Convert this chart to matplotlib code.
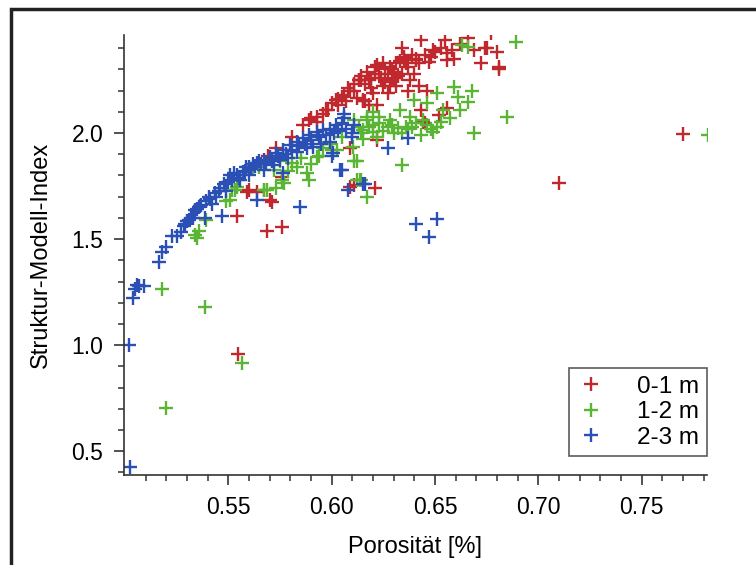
import matplotlib.pyplot as plt
from matplotlib.patches import Rectangle

plt.rcParams['font.family'] = ['Liberation Sans', 'DejaVu Sans']

# 0-1 m
x_red = [0.554, 0.5546, 0.5686, 0.576, 0.571, 0.564, 0.559, 0.560, 0.570, 0.576,
         0.573, 0.569, 0.581, 0.586, 0.589, 0.593, 0.596, 0.598, 0.602, 0.605,
         0.609, 0.613, 0.615, 0.618, 0.622, 0.593, 0.590, 0.597, 0.611, 0.613,
         0.609, 0.622, 0.609, 0.611, 0.621, 0.600, 0.603, 0.606, 0.608, 0.611,
         0.614, 0.617, 0.619, 0.621, 0.625, 0.627, 0.629, 0.614, 0.618, 0.615,
         0.620, 0.623, 0.625, 0.630, 0.628, 0.629, 0.630, 0.634, 0.636, 0.637,
         0.638, 0.637, 0.642, 0.643, 0.646, 0.647, 0.649, 0.655, 0.656, 0.656,
         0.659, 0.662, 0.666, 0.669, 0.672, 0.674, 0.675, 0.677, 0.680, 0.681,
         0.681, 0.642, 0.648, 0.641, 0.652, 0.656, 0.643, 0.644, 0.645, 0.616,
         0.612, 0.622, 0.632, 0.626, 0.635, 0.640, 0.710, 0.770,
         0.616, 0.619, 0.621, 0.624, 0.626, 0.628, 0.631, 0.633, 0.635, 0.639,
         0.641, 0.645, 0.650, 0.653, 0.658, 0.627, 0.631, 0.634, 0.603, 0.607]
y_red = [1.61, 0.957, 1.54, 1.557, 1.675, 1.72, 1.72, 1.73, 1.685, 1.795,
         1.93, 1.89, 1.98, 2.04, 2.06, 2.075, 2.09, 2.11, 2.155, 2.17,
         2.20, 2.25, 2.15, 2.13, 2.32, 2.05, 2.07, 2.11, 2.20, 2.25,
         1.93, 1.965, 1.745, 1.755, 1.74, 2.14, 2.16, 2.18, 2.21, 2.23,
         2.27, 2.29, 2.21, 2.31, 2.33, 2.28, 2.25, 2.25, 2.25, 2.155,
         2.19, 2.28, 2.22, 2.26, 2.22, 2.30, 2.29, 2.40, 2.33, 2.31,
         2.25, 2.20, 2.22, 2.44, 2.20, 2.335, 2.39, 2.44, 2.375, 2.345,
         2.35, 2.42, 2.45, 2.39, 2.33, 2.40, 2.40, 2.47, 2.38, 2.30,
         2.31, 2.33, 2.36, 2.345, 2.085, 2.12, 2.11, 2.05, 2.045, 2.15,
         2.165, 2.13, 2.27, 2.24, 2.35, 2.28, 1.765, 1.995,
         2.23, 2.26, 2.28, 2.26, 2.30, 2.31, 2.33, 2.34, 2.36, 2.37,
         2.35, 2.37, 2.38, 2.40, 2.39, 2.19, 2.22, 2.28, 2.13, 2.15]

# 1-2 m
x_green = [0.518, 0.5386, 0.520, 0.5566, 0.5347, 0.536, 0.539, 0.534, 0.553, 0.5546,
           0.5507, 0.549, 0.552, 0.562, 0.565, 0.567, 0.5685, 0.572, 0.573, 0.575,
           0.576, 0.577, 0.581, 0.583, 0.585, 0.588, 0.589, 0.590, 0.593, 0.594,
           0.599, 0.6025, 0.605, 0.6105, 0.611, 0.612, 0.612, 0.6137, 0.614, 0.615,
           0.617, 0.617, 0.618, 0.620, 0.622, 0.623, 0.623, 0.627, 0.628, 0.630,
           0.632, 0.633, 0.636, 0.637, 0.638, 0.640, 0.641, 0.643, 0.646, 0.646,
           0.649, 0.651, 0.651, 0.654, 0.659, 0.661, 0.662, 0.666, 0.668, 0.634,
           0.617, 0.614, 0.615, 0.620, 0.611, 0.663, 0.666, 0.669, 0.685, 0.689,
           0.782, 0.554, 0.567,
           0.625, 0.629, 0.634, 0.639, 0.644, 0.648, 0.653, 0.657, 0.620, 0.613,
           0.596, 0.600, 0.579]
y_green = [1.264, 1.179, 0.703, 0.915, 1.505, 1.54, 1.59, 1.52, 1.73, 1.78,
           1.685, 1.68, 1.73, 1.84, 1.84, 1.73, 1.73, 1.825, 1.74, 1.87,
           1.78, 1.765, 1.86, 1.84, 1.88, 1.81, 1.78, 1.855, 1.885, 1.89,
           1.95, 1.92, 1.98, 1.935, 1.87, 1.87, 1.78, 1.78, 2.0, 1.97,
           2.06, 2.075, 2.03, 2.005, 1.98, 2.075, 2.045, 2.03, 2.06, 2.0,
           2.025, 2.11, 2.03, 2.02, 2.075, 2.155, 2.045, 1.99, 2.04, 2.14,
           2.005, 2.03, 2.19, 2.11, 2.215, 2.17, 2.11, 2.145, 2.20, 1.85,
           1.70, 1.78, 2.015, 2.10, 2.06, 2.415, 2.405, 2.0, 2.075, 2.43,
           1.99, 1.745, 1.73,
           2.01, 2.04, 2.00, 2.03, 2.06, 2.02, 2.05, 2.07, 2.04, 2.03,
           1.93, 1.92, 1.82]

# 2-3 m
x_blue = [0.5025, 0.502, 0.504, 0.505, 0.507, 0.509, 0.506, 0.5165, 0.518, 0.520,
          0.5225, 0.525, 0.527, 0.5285, 0.530, 0.532, 0.534, 0.5365, 0.539, 0.5405,
          0.542, 0.5435, 0.5455, 0.547, 0.549, 0.536, 0.5386, 0.533, 0.535, 0.551,
          0.554, 0.5555, 0.557, 0.560, 0.560, 0.564, 0.564, 0.567, 0.567, 0.570,
          0.573, 0.575, 0.5765, 0.5765, 0.580, 0.583, 0.583, 0.586, 0.589, 0.591,
          0.593, 0.596, 0.599, 0.599, 0.600, 0.6005, 0.602, 0.605, 0.605, 0.606,
          0.606, 0.610, 0.611, 0.5845, 0.604, 0.608, 0.615, 0.616, 0.627, 0.637,
          0.610, 0.641, 0.651, 0.647, 0.5525, 0.5585, 0.562, 0.565,
          0.541, 0.544, 0.546, 0.548, 0.550, 0.552, 0.555, 0.558, 0.561, 0.563,
          0.566, 0.568, 0.571, 0.574, 0.578, 0.581, 0.584, 0.587, 0.590, 0.594,
          0.597, 0.601, 0.603, 0.607, 0.572, 0.579, 0.588, 0.595, 0.529, 0.531,
          0.537]
y_blue = [0.424, 1.0, 1.22, 1.265, 1.28, 1.28, 1.285, 1.39, 1.44, 1.465,
          1.515, 1.515, 1.535, 1.56, 1.585, 1.60, 1.635, 1.655, 1.68, 1.70,
          1.665, 1.715, 1.725, 1.61, 1.725, 1.65, 1.60, 1.60, 1.64, 1.80,
          1.80, 1.78, 1.816, 1.84, 1.80, 1.86, 1.685, 1.873, 1.825, 1.887,
          1.905, 1.873, 1.92, 1.81, 1.943, 1.958, 1.91, 1.975, 1.99, 1.935,
          2.005, 2.014, 2.02, 1.96, 1.89, 1.905, 2.04, 2.045, 1.825, 2.09,
          2.07, 1.98, 2.04, 1.65, 1.825, 1.73, 1.76, 1.76, 1.93, 1.975,
          2.0, 1.57, 1.595, 1.51, 1.81, 1.84, 1.855, 1.87,
          1.69, 1.70, 1.74, 1.76, 1.77, 1.78, 1.79, 1.82, 1.83, 1.845,
          1.855, 1.86, 1.87, 1.89, 1.90, 1.92, 1.94, 1.95, 1.965, 1.98,
          1.99, 2.00, 2.01, 2.02, 1.85, 1.88, 1.93, 1.95, 1.57, 1.59,
          1.66]

labels = ['0-1 m', '1-2 m', '2-3 m']
colors = ['#c0282d', '#5bb534', '#2b50b5']

fig = plt.figure(figsize=(7.56, 5.65), dpi=100)
ax = fig.add_axes([0.164, 0.159, 0.771, 0.779])

ax.plot(x_red, y_red, '+', color=colors[0], ms=9.5, mew=1.7, label=labels[0])
ax.plot(x_green, y_green, '+', color=colors[1], ms=9.5, mew=1.7, label=labels[1])
ax.plot(x_blue, y_blue, '+', color=colors[2], ms=9.5, mew=1.7, label=labels[2])

ax.set_xlim(0.4995, 0.7815)
ax.set_ylim(0.387, 2.462)
ax.set_xticks([0.55, 0.60, 0.65, 0.70, 0.75])
ax.set_xticks([0.50 + 0.01 * i for i in range(1, 29)], minor=True)
ax.set_yticks([0.5, 1.0, 1.5, 2.0])
ax.set_yticks([0.4 + 0.1 * i for i in range(21)], minor=True)
ax.set_xticklabels(['0.55', '0.60', '0.65', '0.70', '0.75'])
ax.set_yticklabels(['0.5', '1.0', '1.5', '2.0'])
ax.tick_params(which='major', length=7, width=1.2, labelsize=16.5, color='#333333', pad=8)
ax.tick_params(which='minor', length=4, width=1.1, color='#333333')

for s in ['top', 'right']:
    ax.spines[s].set_visible(False)
for s in ['left', 'bottom']:
    ax.spines[s].set_color('#333333')
    ax.spines[s].set_linewidth(1.2)

ax.set_xlabel('Porosität [%]', fontsize=17, labelpad=12)
ax.set_ylabel('Struktur-Modell-Index', fontsize=17, labelpad=14)

leg = ax.legend(loc='lower right', bbox_to_anchor=(1.0, 0.043), borderaxespad=0,
                fontsize=17.5, fancybox=False, handlelength=1.2, handletextpad=1.3,
                labelspacing=0.15, borderpad=0.3, markerscale=1.1)
leg.get_frame().set_edgecolor('#333333')
leg.get_frame().set_linewidth(1.2)

# outer frame (cut off at right and bottom)
fig.patches.append(Rectangle((11 / 756, -0.1), 1.0, 1.084, transform=fig.transFigure,
                             fill=False, lw=2.5, edgecolor='#222222'))

plt.savefig('out.png', dpi=100)
